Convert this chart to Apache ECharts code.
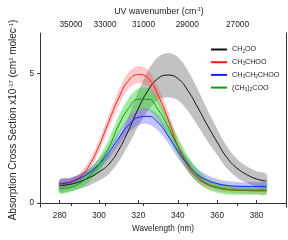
<!DOCTYPE html>
<html>
<head>
<meta charset="utf-8">
<script src="https://cdn.jsdelivr.net/npm/echarts@6/dist/echarts.min.js"></script>
<style>html,body{margin:0;padding:0;background:#fff}#c{width:288px;height:240px}</style>
</head>
<body>
<div id="c"></div>
<script>
var wavelength = [280,285,290,295,300,305,310,315,320,325,330,335,340,345,350,355,360,365,370,375,380,385];
var ch2oo     = [0.68,0.72,0.82,0.98,1.2,1.5,2.05,2.8,3.65,4.35,4.8,4.93,4.8,4.35,3.7,3.0,2.35,1.75,1.35,1.1,0.93,0.85];
var ch2ooErr  = [0.25,0.25,0.27,0.3,0.33,0.38,0.45,0.55,0.67,0.77,0.83,0.85,0.83,0.78,0.7,0.6,0.5,0.42,0.36,0.32,0.3,0.28];
var ch3choo    = [0.72,0.8,0.98,1.45,2.2,3.15,4.05,4.72,4.95,4.8,4.15,3.25,2.2,1.45,0.98,0.72,0.6,0.53,0.5,0.48,0.47,0.47];
var ch3chooErr = [0.12,0.13,0.15,0.18,0.22,0.26,0.3,0.32,0.33,0.33,0.32,0.3,0.26,0.22,0.18,0.15,0.13,0.12,0.12,0.12,0.12,0.12];
var ch3ch2choo    = [0.75,0.8,0.95,1.17,1.5,1.95,2.5,3.0,3.3,3.34,3.1,2.6,2.0,1.5,1.1,0.88,0.75,0.68,0.65,0.64,0.64,0.64];
var ch3ch2chooErr = [0.15,0.15,0.16,0.18,0.2,0.23,0.26,0.28,0.3,0.3,0.3,0.28,0.26,0.24,0.22,0.2,0.18,0.17,0.16,0.16,0.16,0.16];
var me2coo    = [0.55,0.6,0.75,1.05,1.5,2.15,3.0,3.65,4.0,4.0,3.6,2.95,2.2,1.55,1.05,0.75,0.6,0.52,0.5,0.5,0.5,0.5];
var me2cooErr = [0.18,0.18,0.2,0.23,0.27,0.31,0.35,0.39,0.41,0.42,0.41,0.38,0.34,0.3,0.26,0.22,0.2,0.19,0.18,0.18,0.18,0.18];

var seriesNames = ['CH2OO','CH3CHOO','CH3CH2CHOO','(CH3)2COO'];
var seriesLabels = ['CH{s|2}OO','CH{s|3}CHOO','CH{s|3}CH{s|2}CHOO','(CH{s|3}){s|2}COO'];
var wlTicks = [280,300,320,340,360,380];
var yTicks = [0,5];
var wnTicks = [35000,33000,31000,29000,27000];

var lineColors = ['#111111','#ff1a1a','#1a1aff','#139a13'];
var bandColors = ['rgba(120,120,120,0.45)','rgba(255,60,60,0.28)','rgba(40,40,255,0.28)','rgba(30,210,30,0.42)'];
var values = [ch2oo, ch3choo, ch3ch2choo, me2coo];
var errs = [ch2ooErr, ch3chooErr, ch3ch2chooErr, me2cooErr];

var FONT = 'Liberation Sans, Arial, sans-serif';
var series = [];
function bandSeries(k) {
  return {
    name: 'band' + k, type: 'custom', silent: true, clip: true, z: 2,
    data: [[wavelength[0], values[k][0]]],
    renderItem: function (params, api) {
      var pts = [];
      for (var i = 0; i < wavelength.length; i++) pts.push(api.coord([wavelength[i], values[k][i] + errs[k][i]]));
      for (var j = wavelength.length - 1; j >= 0; j--) pts.push(api.coord([wavelength[j], values[k][j] - errs[k][j]]));
      return { type: 'polygon', shape: { points: pts, smooth: 0.3 }, style: { fill: bandColors[k] } };
    }
  };
}
for (var k = 0; k < 4; k++) series.push(bandSeries(k));
for (var k2 = 0; k2 < 4; k2++) {
  series.push({
    name: seriesNames[k2], type: 'line', smooth: true, symbol: 'none',
    data: wavelength.map(function (w, i) { return [w, values[k2][i]]; }),
    lineStyle: { color: lineColors[k2], width: 1 }, itemStyle: { color: lineColors[k2] }, z: 5
  });
}

var axisCol = '#333';
var chart = echarts.init(document.getElementById('c'), null, { renderer: 'canvas' });
chart.setOption({
  animation: false,
  textStyle: { fontFamily: FONT },
  grid: { left: 40, right: 2, top: 33, bottom: 33 },
  legend: {
    data: seriesNames, orient: 'vertical', left: 206, top: 40, itemWidth: 16, itemHeight: 2,
    itemGap: 3.7, icon: 'rect',
    formatter: function (n) { return seriesLabels[seriesNames.indexOf(n)]; },
    textStyle: {
      fontFamily: FONT, fontSize: 7.2, color: '#222', lineHeight: 9,
      rich: { s: { fontSize: 4.6, lineHeight: 5, verticalAlign: 'bottom', color: '#222', fontFamily: FONT } }
    }
  },
  xAxis: [{
    type: 'value', position: 'bottom', min: 270, max: 395,
    name: 'Wavelength (nm)', nameLocation: 'middle', nameGap: 18,
    nameTextStyle: { fontSize: 8.2, color: '#222', fontFamily: FONT },
    axisLine: { show: true, lineStyle: { color: axisCol, width: 1 } },
    axisTick: { show: true, inside: true, length: 3, customValues: wlTicks, lineStyle: { color: axisCol } },
    axisLabel: { customValues: wlTicks, fontSize: 8.2, color: '#222', margin: 5, fontFamily: FONT },
    splitLine: { show: false }
  }, {
    type: 'value', position: 'top', min: 270, max: 395,
    name: 'UV wavenumber (cm{sup|-1})', nameLocation: 'middle', nameGap: 14,
    nameTextStyle: { fontSize: 8.8, color: '#222', fontFamily: FONT, padding: [0, 8, 0, 0],
      rich: { sup: { fontSize: 5, lineHeight: 5, verticalAlign: 'top', color: '#222', fontFamily: FONT } } },
    axisLine: { show: true, lineStyle: { color: axisCol, width: 1 } },
    axisTick: { show: true, inside: true, length: 3, customValues: wnTicks.map(function (n) { return 1e7 / n; }), lineStyle: { color: axisCol } },
    axisLabel: { customValues: wnTicks.map(function (n) { return 1e7 / n; }), fontSize: 8.3, color: '#222', margin: 4, fontFamily: FONT,
      formatter: function (v) { return String(Math.round(1e7 / v / 1000) * 1000); } },
    splitLine: { show: false }
  }],
  yAxis: [{
    type: 'value', position: 'left', min: -0.15, max: 6.55,
    name: 'Absorption Cross Section x10{sup|-17} (cm{sup|2} molec{sup|-1})',
    nameLocation: 'middle', nameGap: 18, nameRotate: 90,
    nameTextStyle: { fontSize: 10, color: '#222', fontFamily: FONT, padding: [0, 0, 0, 0],
      rich: { sup: { fontSize: 5.8, lineHeight: 5, verticalAlign: 'top', color: '#222', fontFamily: FONT } } },
    axisLine: { show: true, lineStyle: { color: axisCol, width: 1 } },
    axisTick: { show: true, inside: false, length: 3, customValues: yTicks, lineStyle: { color: axisCol } },
    axisLabel: { customValues: yTicks, fontSize: 8.2, color: '#222', margin: 6, fontFamily: FONT },
    splitLine: { show: false }
  }, {
    type: 'value', position: 'right', min: -0.15, max: 6.55,
    axisLine: { show: true, lineStyle: { color: axisCol, width: 1 } },
    axisTick: { show: false }, axisLabel: { show: false }, splitLine: { show: false }
  }],
  series: series
});
</script>
</body>
</html>
